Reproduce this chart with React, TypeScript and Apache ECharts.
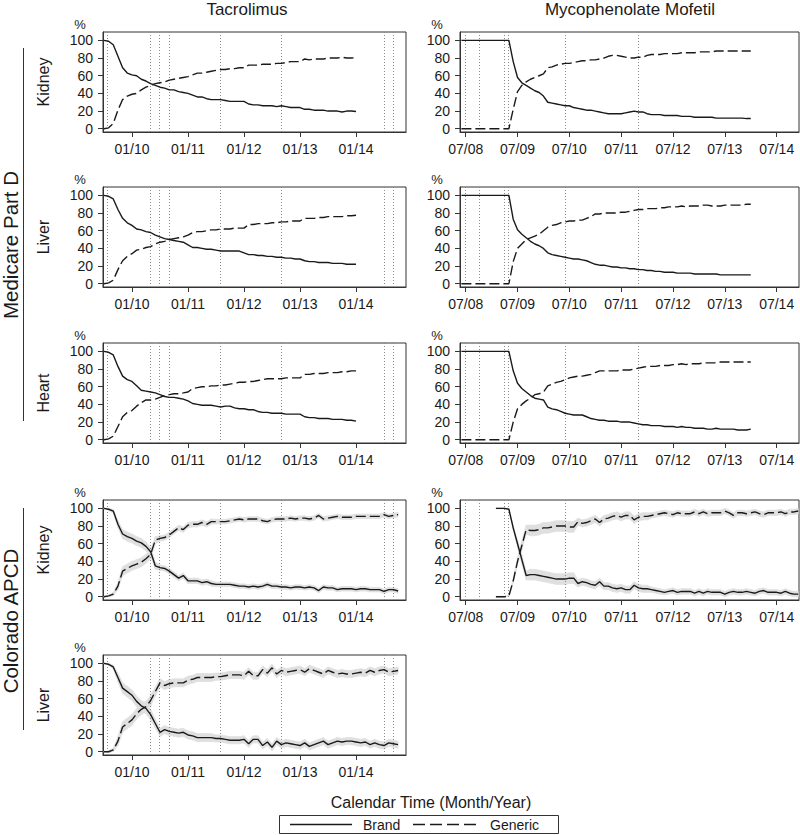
import React, { useEffect, useRef } from "react";
import * as echarts from "echarts";

const FONT = "Liberation Sans, Arial, sans-serif";
const INK = "#1a1a1a";
const BAND = "#dfdfdf";

// x values are month indices counted from Jan 2008 (0 = 01/08)
const TAC_START = 18; // 07/09
const MMF_START = 5; // 06/08
const MMF_CO_START = 13; // 02/09

const tacXTicks = [24, 36, 48, 60, 72];
const mmfXTicks = [6, 18, 30, 42, 54, 66, 78];
const yTicks = [0, 20, 40, 60, 80, 100];
const tacEvents = [18.7, 27.9, 29.9, 32, 42.9, 55.9, 78, 79.9];
const mmfEvents = [6, 9.1, 14.9, 15.9, 29, 46];

// ---- Tacrolimus, Medicare Part D ----
const tacMedKidneyBrand = [
  100, 99, 95, 82, 69, 63, 61, 60, 56, 54, 51, 49,
  47, 46, 44, 44, 42, 41, 40, 38, 36, 36, 34, 33,
  33, 33, 32, 31, 31, 31, 31, 28, 27, 27, 26, 26,
  26, 25, 26, 25, 24, 24, 24, 22, 22, 21, 21, 21,
  20, 20, 20, 19, 20, 20, 19.5,
];
const tacMedKidneyGeneric = [
  0, 1, 6, 21, 33, 37, 39, 40, 44, 47, 49, 51,
  52, 53, 55, 56, 57, 58, 59, 61, 63, 63, 64, 65,
  66, 67, 67, 68, 68, 69, 69, 72, 72, 72, 73, 73,
  73, 74, 74, 75, 76, 76, 76, 79, 78, 79, 79, 79,
  80, 80, 80, 81, 80, 80, 80.5,
];
const tacMedLiverBrand = [
  100, 99, 96, 84, 74, 69, 66, 62, 61, 59, 58, 55,
  53, 51, 50, 49, 48, 47, 44, 41, 41, 40, 39, 39,
  38, 37, 37, 37, 37, 37, 35, 33, 33, 32, 32, 31,
  31, 30, 30, 29, 29, 28, 28, 26, 25, 25, 24, 24,
  24, 23, 23, 23, 22, 22, 22,
];
const tacMedLiverGeneric = [
  0, 1, 4, 16, 26, 31, 34, 38, 39, 41, 42, 45,
  47, 48, 50, 51, 52, 53, 55, 58, 59, 59, 60, 61,
  61, 62, 62, 62, 63, 63, 63, 67, 67, 68, 68, 68,
  69, 69, 70, 70, 71, 71, 71, 74, 74, 74, 75, 75,
  76, 76, 76, 76, 77, 77, 77.5,
];
const tacMedHeartBrand = [
  100, 99, 96, 83, 72, 68, 66, 61, 56, 55, 54, 53,
  51, 49, 48, 48, 47, 46, 44, 41, 40, 39, 39, 39,
  38, 37, 38, 38, 36, 35, 35, 34, 34, 32, 31, 31,
  30, 30, 30, 29, 29, 29, 29, 26, 25, 25, 24, 24,
  24, 23, 23, 23, 22, 22, 21,
];
const tacMedHeartGeneric = [
  0, 1, 4, 15, 26, 31, 33, 38, 42, 45, 45, 46,
  48, 50, 51, 52, 52, 53, 54, 58, 59, 60, 60, 61,
  61, 62, 62, 63, 64, 65, 65, 66, 66, 67, 68, 69,
  69, 69, 69, 70, 70, 70, 70, 74, 74, 75, 75, 75,
  76, 76, 76, 77, 77, 78, 78,
];

// ---- Tacrolimus, Colorado APCD ----
const tacCoKidneyBrand = [
  100, 99, 97, 82, 71, 68, 66, 63, 61, 57, 51, 35,
  33, 32, 29, 25, 21, 24, 18, 18, 18, 16, 17, 15,
  14, 14, 14, 14, 13, 12, 12, 11, 12, 11, 12, 14,
  12, 12, 11, 11, 10, 11, 11, 10, 11, 10, 7, 11,
  10, 10, 8, 9, 9, 9, 8, 9, 9, 8, 8, 8,
  6, 8, 8, 6.5,
];
const tacCoKidneyGeneric = [
  0, 1, 3, 12, 29, 32, 35, 37, 39, 43, 48, 64,
  66, 67, 70, 74, 78, 76, 81, 82, 82, 84, 82, 85,
  85, 85, 85, 86, 87, 88, 87, 88, 88, 88, 86, 85,
  87, 88, 88, 88, 89, 88, 89, 89, 88, 89, 92, 88,
  89, 90, 91, 90, 90, 90, 91, 91, 91, 91, 91, 91,
  93, 91, 92, 93,
];
const tacCoKidneyCI = [
  0.5, 1, 2, 4, 5, 5, 5, 5, 5, 5, 5, 4,
  3, 3, 3, 3, 3, 3, 3, 3, 3, 3, 3, 3,
  2.5, 2.5, 2.5, 2.5, 2.5, 2.5, 2.5, 2.5, 2.5, 2.5, 2.5, 2.5,
  2.5, 2.5, 2.5, 2.5, 2.5, 2.5, 2.5, 2.5, 2.5, 2.5, 2.5, 2.5,
  2.5, 2.5, 2.5, 2.5, 2.5, 2.5, 2.5, 2.5, 2.5, 2.5, 2.5, 2.5,
  2.5, 2.5, 2.5, 2.5,
];
const tacCoLiverBrand = [
  100, 99, 96, 84, 72, 68, 64, 57, 52, 49, 42, 32,
  22, 25, 23, 22, 21, 22, 19, 18, 16, 16, 16, 16,
  15, 15, 14, 13, 13, 13, 14, 9, 14, 14, 7, 11,
  5, 12, 8, 10, 9, 8, 7, 10, 6, 8, 10, 12,
  8, 10, 12, 11, 12, 12, 11, 10, 11, 8, 10, 8,
  7, 10, 9, 8,
];
const tacCoLiverGeneric = [
  0, 0, 2, 12, 28, 32, 36, 43, 48, 51, 58, 68,
  78, 75, 77, 78, 78, 78, 81, 82, 84, 84, 84, 84,
  85, 85, 86, 87, 87, 87, 86, 91, 86, 86, 93, 89,
  95, 88, 92, 90, 91, 92, 93, 90, 94, 92, 90, 88,
  92, 90, 88, 89, 88, 88, 89, 90, 89, 92, 90, 92,
  93, 90, 91, 92,
];
const tacCoLiverCI = [
  0.5, 1, 2, 5, 6, 6, 6, 6, 6, 6, 6, 5,
  4.5, 4.5, 4.5, 4.5, 4.5, 4.5, 4.5, 4.5, 4.5, 4.5, 4.5, 4.5,
  4, 4, 4, 4, 4, 4, 4, 4, 4, 4, 4, 4,
  4, 4, 4, 4, 4, 4, 4, 4, 4, 4, 4, 4,
  4, 4, 4, 4, 4, 4, 4, 4, 4, 4, 4, 4,
  4, 4, 4, 4,
];

// ---- Mycophenolate Mofetil, Medicare Part D ----
const mmfMedKidneyBrand = [
  100, 100, 100, 100, 100, 100, 100, 100, 100, 100, 100, 100,
  76, 58, 52, 49, 46, 43, 41, 37, 30, 29, 28, 27,
  26, 26, 24, 23, 22, 21, 21, 20, 19, 18, 17, 17,
  17, 17, 18, 19, 20, 19, 19, 17, 16, 16, 16, 15,
  15, 15, 15, 14, 14, 14, 13, 13, 13, 13, 13, 12,
  12, 12, 12, 12, 12, 12, 11.5, 11.5,
];
const mmfMedKidneyGeneric = [
  0, 0, 0, 0, 0, 0, 0, 0, 0, 0, 0, 0,
  22, 42, 49, 53, 56, 58, 60, 62, 69, 70, 72, 73,
  74, 74, 75, 76, 77, 77, 78, 78, 79, 80, 82, 83,
  83, 82, 81, 80, 80, 81, 81, 83, 84, 84, 84, 85,
  85, 85, 85, 86, 86, 86, 86, 87, 87, 87, 87, 88,
  88, 88, 88, 88, 88, 88, 88, 88,
];
const mmfMedLiverBrand = [
  100, 100, 100, 100, 100, 100, 100, 100, 100, 100, 100, 100,
  73, 61, 56, 52, 48, 45, 43, 40, 35, 33, 32, 31,
  30, 29, 28, 28, 27, 26, 24, 22, 21, 21, 20, 19,
  19, 18, 18, 17, 17, 16, 16, 15, 15, 14, 14, 13,
  13, 13, 12, 12, 12, 12, 11, 11, 11, 11, 11, 11,
  10, 10, 10, 10, 10, 10, 10, 10,
];
const mmfMedLiverGeneric = [
  0, 0, 0, 0, 0, 0, 0, 0, 0, 0, 0, 0,
  25, 40, 45, 50, 52, 54, 56, 60, 64, 66, 67, 69,
  70, 71, 71, 72, 72, 74, 76, 79, 79, 80, 80, 80,
  80, 81, 81, 82, 83, 84, 84, 85, 85, 85, 86, 86,
  87, 87, 87, 88, 87, 88, 88, 88, 89, 89, 88, 88,
  88, 89, 89, 89, 89, 89, 90, 90,
];
const mmfMedHeartBrand = [
  100, 100, 100, 100, 100, 100, 100, 100, 100, 100, 100, 100,
  78, 64, 58, 54, 50, 47, 46, 45, 37, 35, 34, 32,
  30, 29, 28, 28, 28, 26, 24, 23, 22, 22, 21, 21,
  21, 20, 20, 20, 19, 18, 17, 17, 16, 16, 16, 15,
  15, 15, 14, 15, 14, 14, 13, 13, 13, 12, 12, 13,
  12, 12, 12, 12, 11, 11, 11, 12,
];
const mmfMedHeartGeneric = [
  0, 0, 0, 0, 0, 0, 0, 0, 0, 0, 0, 0,
  20, 35, 40, 44, 47, 51, 52, 54, 61, 63, 65, 66,
  68, 70, 71, 72, 72, 73, 74, 76, 78, 78, 78, 78,
  78, 79, 79, 79, 80, 81, 82, 83, 83, 83, 84, 84,
  84, 85, 85, 86, 85, 86, 86, 86, 87, 87, 87, 87,
  88, 88, 88, 88, 88, 88, 88, 88,
];

// ---- Mycophenolate Mofetil, Colorado APCD ----
const mmfCoKidneyBrand = [
  100, 100, 100, 99, 78, 60, 42, 24, 25, 25, 24, 23,
  22, 21, 20, 20, 20, 21, 21, 15, 17, 16, 14, 13,
  17, 12, 12, 10, 9, 10, 8, 8, 13, 10, 9, 9,
  8, 7, 6, 5, 6, 7, 5, 6, 6, 6, 4, 6,
  4, 6, 5, 5, 5, 3, 5, 6, 5, 5, 6, 5,
  4, 6, 7, 5, 5, 5, 4, 6, 4, 3, 3,
];
const mmfCoKidneyGeneric = [
  0, 0, 0, 1, 18, 40, 58, 76, 75, 75, 76, 78,
  78, 79, 80, 80, 80, 79, 79, 85, 83, 84, 86, 88,
  84, 88, 89, 91, 92, 90, 92, 92, 87, 90, 91, 91,
  92, 93, 94, 95, 94, 93, 95, 94, 94, 94, 96, 94,
  96, 94, 95, 95, 95, 97, 95, 92, 95, 95, 94, 95,
  96, 94, 93, 95, 95, 95, 96, 94, 96, 96, 97,
];
const mmfCoKidneyCI = [
  0.5, 0.5, 0.5, 0.5, 2, 4, 5, 5,
  6, 6, 6, 6, 6, 6, 6, 6, 6, 6, 6,
  4, 4, 4, 4, 4, 4, 4, 4, 4, 4, 4, 4, 4, 4, 4, 4, 4,
  3, 3, 3, 3, 3, 3, 3, 3, 3, 3, 3, 3, 3, 3, 3, 3, 3, 3,
  3, 3, 3, 3, 3, 3, 3, 3, 3, 3, 3, 3, 3, 3, 3, 3, 3,
];

const columns = [
  { title: "Tacrolimus", left: 103, width: 303, min: 17.8, max: 82.7, ticks: tacXTicks, events: tacEvents, titleX: 247 },
  { title: "Mycophenolate Mofetil", left: 460, width: 339, min: 4.68, max: 83.17, ticks: mmfXTicks, events: mmfEvents, titleX: 630 },
];
const rowTops = [32, 187, 343, 500, 655];
const rowLabels = ["Kidney", "Liver", "Heart", "Kidney", "Liver"];

const panels = [
  { col: 0, row: 0, start: TAC_START, brand: tacMedKidneyBrand, generic: tacMedKidneyGeneric, ci: null },
  { col: 0, row: 1, start: TAC_START, brand: tacMedLiverBrand, generic: tacMedLiverGeneric, ci: null },
  { col: 0, row: 2, start: TAC_START, brand: tacMedHeartBrand, generic: tacMedHeartGeneric, ci: null },
  { col: 0, row: 3, start: TAC_START, brand: tacCoKidneyBrand, generic: tacCoKidneyGeneric, ci: tacCoKidneyCI },
  { col: 0, row: 4, start: TAC_START, brand: tacCoLiverBrand, generic: tacCoLiverGeneric, ci: tacCoLiverCI },
  { col: 1, row: 0, start: MMF_START, brand: mmfMedKidneyBrand, generic: mmfMedKidneyGeneric, ci: null },
  { col: 1, row: 1, start: MMF_START, brand: mmfMedLiverBrand, generic: mmfMedLiverGeneric, ci: null },
  { col: 1, row: 2, start: MMF_START, brand: mmfMedHeartBrand, generic: mmfMedHeartGeneric, ci: null },
  { col: 1, row: 3, start: MMF_CO_START, brand: mmfCoKidneyBrand, generic: mmfCoKidneyGeneric, ci: mmfCoKidneyCI },
];

const fmtMonth = (v: number) => {
  const m = Math.round(v);
  const mm = (m % 12) + 1;
  const yy = 8 + Math.floor(m / 12);
  return `${mm < 10 ? "0" : ""}${mm}/${yy < 10 ? "0" : ""}${yy}`;
};

const bandRender = (params: any, api: any) => {
  const x0 = api.value(0), l0 = api.value(1), h0 = api.value(2);
  const x1 = api.value(3), l1 = api.value(4), h1 = api.value(5);
  const points = [api.coord([x0, l0]), api.coord([x1, l1]), api.coord([x1, h1]), api.coord([x0, h0])];
  return {
    type: "polygon",
    silent: true,
    shape: { points },
    style: { fill: BAND, stroke: BAND, lineWidth: 0.8 },
  };
};

function buildOption() {
  const grid: any[] = [];
  const xAxis: any[] = [];
  const yAxis: any[] = [];
  const series: any[] = [];
  const graphic: any[] = [];

  const txt = (x: number, y: number, text: string, size: number, rot = 0) => ({
    type: "text",
    x,
    y,
    rotation: rot,
    silent: true,
    style: {
      text,
      fontSize: size,
      fontFamily: FONT,
      fill: INK,
      align: "center",
      verticalAlign: "middle",
    },
  });

  panels.forEach((p, i) => {
    const c = columns[p.col];
    const top = rowTops[p.row];
    grid.push({
      left: c.left,
      top,
      width: c.width,
      height: 100,
      show: true,
      borderColor: "#333",
      borderWidth: 1,
      backgroundColor: "transparent",
      containLabel: false,
      outerBoundsMode: "none",
    });
    xAxis.push({
      type: "value",
      gridIndex: i,
      min: c.min,
      max: c.max,
      splitLine: { show: false },
      axisLine: { show: true, onZero: false, lineStyle: { color: "#333", width: 1 } },
      axisTick: { show: true, length: 5, inside: false, customValues: c.ticks, lineStyle: { color: "#333" } },
      axisLabel: {
        show: true,
        customValues: c.ticks,
        formatter: (v: number) => fmtMonth(v),
        fontSize: 14,
        fontFamily: FONT,
        color: INK,
        margin: 10,
      },
    });
    yAxis.push({
      type: "value",
      gridIndex: i,
      min: -3.7,
      max: 109.5,
      splitLine: { show: false },
      axisLine: { show: true, onZero: false, lineStyle: { color: "#333", width: 1 } },
      axisTick: { show: true, length: 5, inside: false, customValues: yTicks, lineStyle: { color: "#333" } },
      axisLabel: {
        show: true,
        customValues: yTicks,
        fontSize: 14,
        fontFamily: FONT,
        color: INK,
        margin: 10,
      },
    });

    if (p.ci) {
      const ci = p.ci;
      [p.brand, p.generic].forEach((arr) => {
        const segs: number[][] = [];
        for (let j = 0; j < arr.length - 1; j++) {
          segs.push([
            p.start + j, arr[j] - ci[j], arr[j] + ci[j],
            p.start + j + 1, arr[j + 1] - ci[j + 1], arr[j + 1] + ci[j + 1],
          ]);
        }
        series.push({
          type: "custom",
          xAxisIndex: i,
          yAxisIndex: i,
          silent: true,
          z: 1,
          renderItem: bandRender,
          encode: { x: [0, 3], y: [1, 2, 4, 5] },
          data: segs,
        });
      });
    }

    series.push({
      type: "line",
      name: "Brand",
      xAxisIndex: i,
      yAxisIndex: i,
      symbol: "none",
      z: 3,
      lineStyle: { color: INK, width: 1.4, type: "solid" },
      data: p.brand.map((v, j) => [p.start + j, v]),
      markLine: {
        silent: true,
        symbol: ["none", "none"],
        label: { show: false },
        lineStyle: { color: "#8a8a8a", width: 1, type: [1, 2] },
        data: c.events.map((e) => ({ xAxis: e })),
        z: 2,
      },
    });
    series.push({
      type: "line",
      name: "Generic",
      xAxisIndex: i,
      yAxisIndex: i,
      symbol: "none",
      z: 3,
      lineStyle: { color: INK, width: 1.4, type: [10, 4] },
      data: p.generic.map((v, j) => [p.start + j, v]),
    });

    // percent sign above y axis
    graphic.push(txt(c.left - 23, top - 8, "%", 13));
  });

  // column titles
  columns.forEach((c) => graphic.push(txt(c.titleX, 9, c.title, 17)));

  // row labels
  rowTops.forEach((t, r) => graphic.push(txt(43.5, t + 50, rowLabels[r], 16, Math.PI / 2)));

  // group labels and rules
  graphic.push(txt(10, 245, "Medicare Part D", 20.5, Math.PI / 2));
  graphic.push({ type: "line", silent: true, shape: { x1: 23.5, y1: 48, x2: 23.5, y2: 421 }, style: { stroke: "#333", lineWidth: 1 } });
  graphic.push(txt(10, 621, "Colorado APCD", 20.5, Math.PI / 2));
  graphic.push({ type: "line", silent: true, shape: { x1: 23.5, y1: 508, x2: 23.5, y2: 730 }, style: { stroke: "#333", lineWidth: 1 } });

  // x axis title
  graphic.push(txt(431, 802, "Calendar Time (Month/Year)", 16));

  // legend
  graphic.push({ type: "rect", silent: true, shape: { x: 279.5, y: 815.5, width: 279, height: 18 }, style: { fill: "none", stroke: "#333", lineWidth: 1 } });
  graphic.push({ type: "line", silent: true, shape: { x1: 290, y1: 824.5, x2: 352, y2: 824.5 }, style: { stroke: INK, lineWidth: 1.3 } });
  graphic.push({
    type: "text", silent: true, x: 363, y: 824.5,
    style: { text: "Brand", fontSize: 14, fontFamily: FONT, fill: INK, align: "left", verticalAlign: "middle" },
  });
  graphic.push({ type: "line", silent: true, shape: { x1: 413, y1: 824.5, x2: 477, y2: 824.5 }, style: { stroke: INK, lineWidth: 1.3, lineDash: [12, 5] } });
  graphic.push({
    type: "text", silent: true, x: 490, y: 824.5,
    style: { text: "Generic", fontSize: 14, fontFamily: FONT, fill: INK, align: "left", verticalAlign: "middle" },
  });

  return {
    animation: false,
    backgroundColor: "#ffffff",
    textStyle: { fontFamily: FONT },
    grid,
    xAxis,
    yAxis,
    series,
    graphic,
  };
}

export default function App() {
  const ref = useRef<HTMLDivElement>(null);
  useEffect(() => {
    if (!ref.current) return;
    const chart = echarts.init(ref.current, undefined, { renderer: "svg" });
    chart.setOption(buildOption() as any);
    return () => chart.dispose();
  }, []);
  return (
    <div
      ref={ref}
      style={{ position: "fixed", left: 0, top: 0, width: 800, height: 835, background: "#fff" }}
    />
  );
}
